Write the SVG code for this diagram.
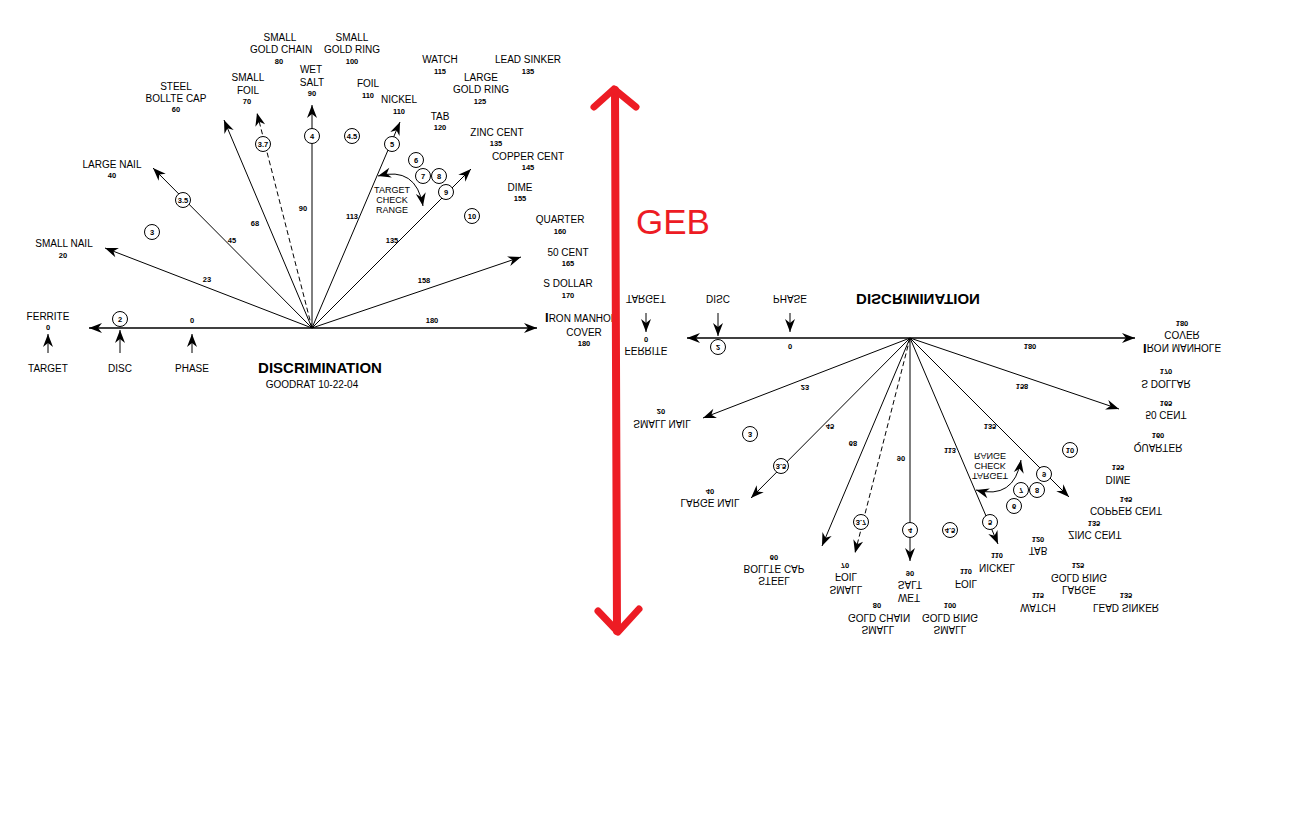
<svg xmlns="http://www.w3.org/2000/svg" xmlns:xlink="http://www.w3.org/1999/xlink" width="1300" height="840" viewBox="0 0 1300 840">
<style>
.ln{stroke:#000;stroke-width:1;fill:none}
.ax{stroke:#000;stroke-width:1.4;fill:none}
.ds{stroke:#000;stroke-width:1;fill:none;stroke-dasharray:5,3}
.nm{font-family:"Liberation Sans",Arial,sans-serif;font-size:10px;fill:#000;text-anchor:middle}
.nb{font-family:"Liberation Sans",Arial,sans-serif;font-size:7.5px;font-weight:bold;fill:#000;text-anchor:middle}
.cc{fill:#fff;stroke:#000;stroke-width:1}
.tt{font-family:"Liberation Sans",Arial,sans-serif;font-size:15px;font-weight:bold;fill:#000;text-anchor:middle}
.sm{font-family:"Liberation Sans",Arial,sans-serif;font-size:9px;fill:#000;text-anchor:middle}
</style>
<defs>
<marker id="ah" viewBox="-14 -5.5 15 11" refX="0" refY="0" markerWidth="15" markerHeight="11" markerUnits="userSpaceOnUse" orient="auto-start-reverse">
<path d="M0,0 L-13,-5 L-9,0 L-13,5 Z" fill="#000"/>
</marker>
<clipPath id="clipL"><rect x="0" y="0" width="612" height="840"/></clipPath>
<g id="chart">
<g id="connectors">
<line class="ax" x1="312" y1="328" x2="89" y2="328" marker-end="url(#ah)"/>
<line class="ax" x1="312" y1="328" x2="537" y2="328" marker-end="url(#ah)"/>
<line class="ln" x1="312" y1="328" x2="105" y2="248" marker-end="url(#ah)"/>
<line class="ln" x1="312" y1="328" x2="153" y2="168" marker-end="url(#ah)"/>
<line class="ln" x1="312" y1="328" x2="224" y2="120" marker-end="url(#ah)"/>
<line class="ds" x1="312" y1="328" x2="257" y2="113" marker-end="url(#ah)"/>
<line class="ln" x1="312" y1="328" x2="312" y2="105" marker-end="url(#ah)"/>
<line class="ln" x1="312" y1="328" x2="400" y2="122" marker-end="url(#ah)"/>
<line class="ln" x1="312" y1="328" x2="471" y2="169" marker-end="url(#ah)"/>
<line class="ln" x1="312" y1="328" x2="521" y2="257" marker-end="url(#ah)"/>
<line class="ln" x1="48" y1="353" x2="48" y2="334" marker-end="url(#ah)"/>
<line class="ln" x1="120" y1="353" x2="120" y2="330" marker-end="url(#ah)"/>
<line class="ln" x1="192" y1="353" x2="192" y2="334" marker-end="url(#ah)"/>
<path class="ln" d="M378,176 Q416,166 423,206" marker-start="url(#ah)" marker-end="url(#ah)"/>
<text class="nb" x="207" y="281.5">23</text>
<text class="nb" x="232" y="242.5">45</text>
<text class="nb" x="255" y="225.5">68</text>
<text class="nb" x="303" y="210.5">90</text>
<text class="nb" x="352" y="218.5">113</text>
<text class="nb" x="392" y="242.5">135</text>
<text class="nb" x="424" y="282.5">158</text>
<text class="nb" x="432" y="322.5">180</text>
<text class="nb" x="192" y="322.5">0</text>
</g>
<g id="c2"><circle class="cc" cx="120" cy="319" r="7.5"/><text class="nb" x="120" y="321.5">2</text></g>
<g id="c3"><circle class="cc" cx="152" cy="232" r="7.5"/><text class="nb" x="152" y="234.5">3</text></g>
<g id="c35"><circle class="cc" cx="183" cy="200" r="7.5"/><text class="nb" x="183" y="202.5">3.5</text></g>
<g id="c37"><circle class="cc" cx="263" cy="144" r="7.5"/><text class="nb" x="263" y="146.5">3.7</text></g>
<g id="c4"><circle class="cc" cx="312" cy="136" r="7.5"/><text class="nb" x="312" y="138.5">4</text></g>
<g id="c45"><circle class="cc" cx="352" cy="136" r="7.5"/><text class="nb" x="352" y="138.5">4.5</text></g>
<g id="c5"><circle class="cc" cx="392" cy="144" r="7.5"/><text class="nb" x="392" y="146.5">5</text></g>
<g id="c6"><circle class="cc" cx="416" cy="160" r="7.5"/><text class="nb" x="416" y="162.5">6</text></g>
<g id="c7"><circle class="cc" cx="423" cy="176" r="7.5"/><text class="nb" x="423" y="178.5">7</text></g>
<g id="c8"><circle class="cc" cx="439" cy="176" r="7.5"/><text class="nb" x="439" y="178.5">8</text></g>
<g id="c9"><circle class="cc" cx="446" cy="192" r="7.5"/><text class="nb" x="446" y="194.5">9</text></g>
<g id="c10"><circle class="cc" cx="472" cy="216" r="7.5"/><text class="nb" x="472" y="218.5">10</text></g>
<g id="range"><text class="sm" x="392" y="193">TARGET</text><text class="sm" x="392" y="203">CHECK</text><text class="sm" x="392" y="213">RANGE</text></g>
<g id="ferrite"><text class="nm" x="48" y="319.5">FERRITE</text><text class="nb" x="48" y="329.5">0</text></g>
<g id="target"><text class="nm" x="48" y="371.5">TARGET</text></g>
<g id="disc"><text class="nm" x="120" y="371.5">DISC</text></g>
<g id="phase"><text class="nm" x="192" y="371.5">PHASE</text></g>
<g id="smallnail"><text class="nm" x="64" y="246.5">SMALL NAIL</text><text class="nb" x="63" y="257.5">20</text></g>
<g id="largenail"><text class="nm" x="112" y="167.5">LARGE NAIL</text><text class="nb" x="112" y="177.5">40</text></g>
<g id="steel"><text class="nm" x="176" y="89.5">STEEL</text><text class="nm" x="176" y="101.5">BOLLTE CAP</text><text class="nb" x="176" y="111.5">60</text></g>
<g id="smallfoil"><text class="nm" x="248" y="80.5">SMALL</text><text class="nm" x="248" y="93.5">FOIL</text><text class="nb" x="247" y="103.5">70</text></g>
<g id="goldchain"><text class="nm" x="280" y="40.5">SMALL</text><text class="nm" x="281" y="52.5">GOLD CHAIN</text><text class="nb" x="279" y="63.5">80</text></g>
<g id="wetsalt"><text class="nm" x="311" y="72.5">WET</text><text class="nm" x="312" y="85.5">SALT</text><text class="nb" x="312" y="95.5">90</text></g>
<g id="goldring"><text class="nm" x="352" y="40.5">SMALL</text><text class="nm" x="352" y="52.5">GOLD RING</text><text class="nb" x="352" y="63.5">100</text></g>
<g id="foil"><text class="nm" x="368" y="86.5">FOIL</text><text class="nb" x="368" y="97.5">110</text></g>
<g id="nickel"><text class="nm" x="399" y="102.5">NICKEL</text><text class="nb" x="399" y="113.5">110</text></g>
<g id="watch"><text class="nm" x="440" y="62.5">WATCH</text><text class="nb" x="440" y="73.5">115</text></g>
<g id="leadsinker"><text class="nm" x="528" y="62.5">LEAD SINKER</text><text class="nb" x="528" y="73.5">135</text></g>
<g id="largering"><text class="nm" x="481" y="80.5">LARGE</text><text class="nm" x="481" y="92.5">GOLD RING</text><text class="nb" x="480" y="103.5">125</text></g>
<g id="tab"><text class="nm" x="440" y="119.5">TAB</text><text class="nb" x="440" y="129.5">120</text></g>
<g id="zinc"><text class="nm" x="497" y="135.5">ZINC CENT</text><text class="nb" x="496" y="145.5">135</text></g>
<g id="copper"><text class="nm" x="528" y="159.5">COPPER CENT</text><text class="nb" x="528" y="169.5">145</text></g>
<g id="dime"><text class="nm" x="520" y="190.5">DIME</text><text class="nb" x="520" y="201">155</text></g>
<g id="quarter"><text class="nm" x="560" y="222.5">QUARTER</text><text class="nb" x="560" y="233.5">160</text></g>
<g id="fifty"><text class="nm" x="568" y="255.5">50 CENT</text><text class="nb" x="568" y="265.5">165</text></g>
<g id="sdollar"><text class="nm" x="568" y="286.5">S DOLLAR</text><text class="nb" x="568" y="297.5">170</text></g>
<g id="manhole"><text class="nm" x="545" y="322" style="text-anchor:start"><tspan style="font-size:13px;font-weight:bold">I</tspan>RON MANHOLE</text><text class="nm" x="584" y="335.5">COVER</text><text class="nb" x="584" y="345.5">180</text></g>
<g id="title"><text class="tt" x="320" y="372.5">DISCRIMINATION</text></g>
</g>
</defs>
<g id="left">
<use xlink:href="#chart" clip-path="url(#clipL)"/>
<text class="nm" x="312" y="388">GOODRAT 10-22-04</text>
</g>
<g id="right">
<use xlink:href="#chart" transform="translate(598,666) scale(1,-1)"/>
</g>
<g id="geb">
<path d="M615,90 L617,631" stroke="#ed1c24" stroke-width="8" fill="none" stroke-linecap="round"/>
<path d="M594,107 L614,89 L636,107" stroke="#ed1c24" stroke-width="7" fill="none" stroke-linecap="round" stroke-linejoin="round"/>
<path d="M598,611 L618,632 L639,609" stroke="#ed1c24" stroke-width="7" fill="none" stroke-linecap="round" stroke-linejoin="round"/>
<text x="673" y="234" style="font-family:'Liberation Sans',Arial,sans-serif;font-size:35px;fill:#ed1c24;text-anchor:middle">GEB</text>
</g>
</svg>
